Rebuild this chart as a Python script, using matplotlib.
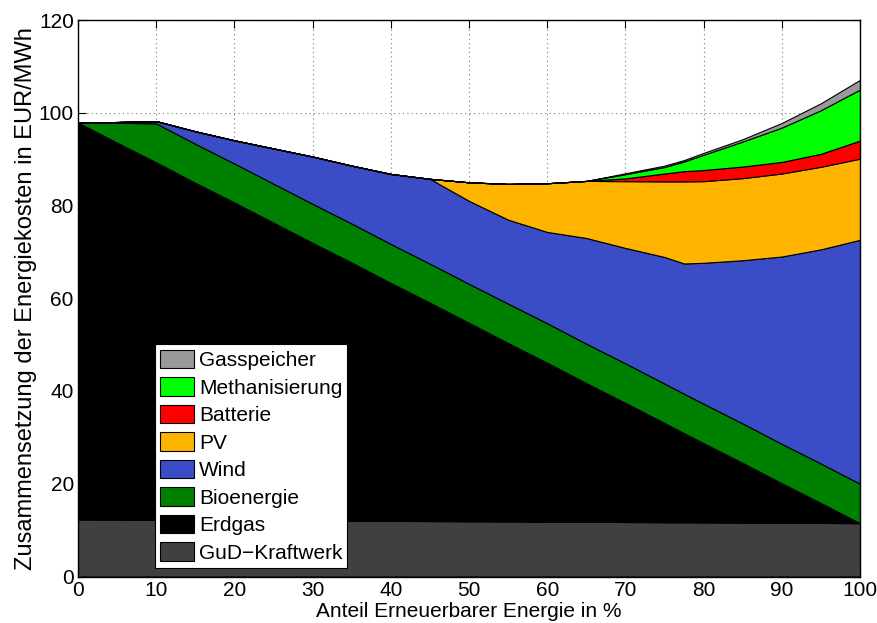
import matplotlib
matplotlib.use("Agg")
import matplotlib.pyplot as plt
from matplotlib.patches import Patch

# Anteil erneuerbarer Energie (%)
anteil = [0, 5, 10, 15, 20, 25, 30, 35, 40, 45, 50, 55, 60, 65, 70, 75, 77.5, 80, 85, 90, 95, 100]

# Layer values (EUR/MWh), stacked bottom to top
gud = [12.3, 12.25, 12.2, 12.2, 12.15, 12.1, 12.05, 12.0, 12.0, 11.95, 11.9, 11.85, 11.8, 11.8, 11.75, 11.7, 11.7, 11.65, 11.6, 11.6, 11.55, 11.5]
erdgas = [85.6, 81.3, 77.1, 72.7, 68.5, 64.2, 59.9, 55.7, 51.3, 47.1, 42.8, 38.5, 34.3, 29.9, 25.7, 21.4, 19.2, 17.1, 12.9, 8.5, 4.3, 0.0]
bioenergie = [0.0, 4.3, 8.4, 8.4, 8.4, 8.4, 8.4, 8.4, 8.4, 8.4, 8.4, 8.5, 8.5, 8.5, 8.5, 8.5, 8.5, 8.5, 8.5, 8.5, 8.5, 8.5]
wind = [0.0, 0.15, 0.5, 2.7, 5.0, 7.6, 10.2, 12.5, 15.1, 18.3, 17.9, 18.1, 19.7, 22.8, 24.9, 27.3, 28.1, 30.4, 35.2, 40.4, 46.2, 52.6]
pv = [0, 0, 0, 0, 0, 0, 0, 0, 0, 0.0, 4.0, 7.7, 10.5, 12.3, 14.4, 16.3, 17.7, 17.6, 17.7, 17.9, 17.8, 17.5]
batterie = [0, 0, 0, 0, 0, 0, 0, 0, 0, 0, 0, 0, 0, 0.0, 0.6, 1.7, 2.2, 2.4, 2.5, 2.5, 2.8, 3.9]
methanisierung = [0, 0, 0, 0, 0, 0, 0, 0, 0, 0, 0, 0, 0, 0.0, 0.9, 1.4, 2.1, 3.3, 5.4, 7.4, 9.4, 11.0]
gasspeicher = [0, 0, 0, 0, 0, 0, 0, 0, 0, 0, 0, 0, 0, 0.0, 0.2, 0.3, 0.3, 0.4, 0.5, 1.0, 1.5, 2.1]

labels = ["GuD\u2212Kraftwerk", "Erdgas", "Bioenergie", "Wind", "PV", "Batterie", "Methanisierung", "Gasspeicher"]
colors = ["#404040", "#000000", "#008000", "#3a4cc6", "#ffb400", "#ff0000", "#00ff00", "#999999"]

x_ticks = [0, 10, 20, 30, 40, 50, 60, 70, 80, 90, 100]
y_ticks = [0, 20, 40, 60, 80, 100, 120]

plt.rcParams['font.family'] = ['Liberation Sans', 'DejaVu Sans']

fig = plt.figure(figsize=(8.77, 6.23), dpi=100)
ax = fig.add_axes([78/877, 1 - 576.5/623, (860 - 78)/877, (576.5 - 20)/623])

ax.stackplot(anteil, gud, erdgas, bioenergie, wind, pv, batterie, methanisierung, gasspeicher,
             colors=colors, edgecolor="black", linewidth=0.8, zorder=2)

ax.set_xlim(0, 100)
ax.set_ylim(0, 120)
ax.set_xticks(x_ticks)
ax.set_yticks(y_ticks)
ax.tick_params(direction="in", top=True, right=True, labelsize=15, length=6, width=0.8)
ax.tick_params(axis="x", pad=3)
ax.tick_params(axis="y", pad=3)
ax.grid(True, linestyle=(0, (1, 3)), color="#777777", linewidth=0.8, zorder=0)
ax.set_axisbelow(True)
for s in ax.spines.values():
    s.set_linewidth(1.0)
    s.set_zorder(5)

ax.set_xlabel("Anteil Erneuerbarer Energie in %", fontsize=15)
ax.xaxis.set_label_coords(0.5, -0.046)
ax.set_ylabel("Zusammensetzung der Energiekosten in EUR/MWh", fontsize=17, labelpad=1)

handles = [Patch(facecolor=c, edgecolor="black", linewidth=0.8, label=l) for c, l in zip(colors, labels)]
leg = ax.legend(handles[::-1], labels[::-1], loc="lower left", bbox_to_anchor=(0.0985, 0.0153),
                fontsize=15, frameon=True, fancybox=False, edgecolor="black", framealpha=1.0,
                facecolor="white",
                handlelength=1.6, handleheight=1.0, handletextpad=0.25, labelspacing=0.34,
                borderpad=0.25, borderaxespad=0)
leg.get_frame().set_linewidth(0.8)
leg.set_zorder(10)

fig.savefig("out.png", dpi=100)
